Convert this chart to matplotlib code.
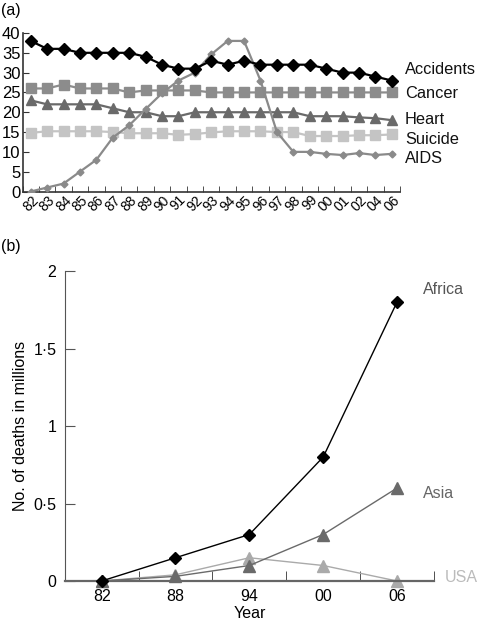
import matplotlib
matplotlib.use("Agg")
import matplotlib.pyplot as plt
from matplotlib.ticker import FuncFormatter

plt.rcParams['font.family'] = ['Liberation Sans', 'DejaVu Sans']

# ---------- Panel (a) data ----------
years_a = ['82', '83', '84', '85', '86', '87', '88', '89', '90', '91', '92', '93',
           '94', '95', '96', '97', '98', '99', '00', '01', '02', '04', '06']
accidents = [38, 36, 36, 35, 35, 35, 35, 34, 32, 31, 31, 33, 32, 33, 32, 32, 32, 32, 31, 30, 30, 29, 28]
cancer = [26, 26, 27, 26, 26, 26, 25, 25.5, 25.5, 25.5, 25.5, 25, 25, 25, 25, 25, 25, 25, 25, 25, 25, 25, 25]
heart = [23, 22, 22, 22, 22, 21, 20, 20, 19, 19, 20, 20, 20, 20, 20, 20, 20, 19, 19, 19, 18.7, 18.5, 18]
suicide = [14.8, 15.2, 15.2, 15.2, 15.2, 15, 14.7, 14.7, 14.7, 14.3, 14.5, 14.9, 15.2, 15.2, 15.2, 15, 15,
           14, 14, 14, 14.2, 14.2, 14.4]
aids = [0, 1, 2, 5, 8, 13.6, 16.7, 20.8, 24.8, 28, 30, 34.6, 38, 38, 28, 15, 10, 10, 9.5, 9.2, 9.7, 9.2, 9.5]
labels_a = ['Accidents', 'Cancer', 'Heart', 'Suicide', 'AIDS']

# ---------- Panel (b) data ----------
years_b = ['82', '88', '94', '00', '06']
africa = [0, 0.15, 0.3, 0.8, 1.8]
asia = [0, 0.03, 0.1, 0.3, 0.6]
usa = [0, 0.04, 0.15, 0.1, 0]
labels_b = ['Africa', 'Asia', 'USA']

W, H = 479, 627
fig = plt.figure(figsize=(W / 100, H / 100), dpi=100)

def fx(px):
    return px / W

def fy(py):
    return 1 - py / H

# ---- Panel (a) ----
ax1 = fig.add_axes([fx(22.5), fy(191.5), fx(400) - fx(22.5), fy(33) - fy(191.5)])
xa = list(range(len(years_a)))
ax1.plot(xa, aids, color='#8a8a8a', lw=1.6, marker='D', ms=3.5, zorder=3)
ax1.plot(xa, suicide, color='#c4c4c4', lw=1.6, marker='s', ms=7, zorder=2)
ax1.plot(xa, heart, color='#6a6a6a', lw=1.6, marker='^', ms=7.5, zorder=2)
ax1.plot(xa, cancer, color='#8c8c8c', lw=1.6, marker='s', ms=7, zorder=2)
ax1.plot(xa, accidents, color='#000000', lw=1.6, marker='D', ms=6.5, zorder=4)
ax1.set_xlim(-0.5, len(years_a) - 0.5)
ax1.set_ylim(0, 40)
ax1.set_yticks(range(0, 41, 5))
ax1.tick_params(axis='y', direction='in', length=4, labelsize=12, pad=1.5, color='#333333')
ax1.set_xticks(xa)
ax1.set_xticklabels(years_a, rotation=45, fontsize=10, ha='center', va='top')
ax1.set_xticks([i + 0.5 for i in range(-1, len(years_a))], minor=True)
ax1.tick_params(axis='x', which='major', length=0, pad=1)
ax1.tick_params(axis='x', which='minor', direction='in', length=4, color='#333333')
for s in ['top', 'right']:
    ax1.spines[s].set_visible(False)
for s in ['left', 'bottom']:
    ax1.spines[s].set_color('#333333')
    ax1.spines[s].set_linewidth(1.2)
label_y_a = [70, 94, 120, 140, 158]
for lab, py in zip(labels_a, label_y_a):
    fig.text(fx(405), fy(py), lab, fontsize=11.8, ha='left', va='center', color='#111111')
fig.text(fx(1), fy(10), '(a)', fontsize=11.5, ha='left', va='center')

# ---- Panel (b) ----
ax2 = fig.add_axes([fx(64.7), fy(581), fx(434) - fx(64.7), fy(271) - fy(581)])
xb = list(range(len(years_b)))
ax2.plot(xb, usa, color='#aaaaaa', lw=1.0, marker='^', ms=8, zorder=2, clip_on=False)
ax2.plot(xb, asia, color='#6a6a6a', lw=1.0, marker='^', ms=8, zorder=3, clip_on=False)
ax2.plot(xb, africa, color='#000000', lw=1.0, marker='D', ms=6.5, zorder=4, clip_on=False)
ax2.set_xlim(-0.5, len(years_b) - 0.5)
ax2.set_ylim(0, 2)
ax2.set_yticks([0, 0.5, 1, 1.5, 2])
ax2.yaxis.set_major_formatter(FuncFormatter(lambda v, p: ('%g' % v).replace('.', '\u00b7')))
ax2.tick_params(axis='y', direction='in', length=7, labelsize=11.5, pad=6, color='#555555')
ax2.set_xticks(xb)
ax2.set_xticklabels(years_b, fontsize=11.5)
ax2.set_xticks([i + 0.5 for i in range(len(years_b))], minor=True)
ax2.tick_params(axis='x', which='major', length=0, pad=6)
ax2.tick_params(axis='x', which='minor', direction='in', length=7, color='#333333')
for s in ['top', 'right']:
    ax2.spines[s].set_visible(False)
ax2.spines['left'].set_color('#555555')
ax2.spines['bottom'].set_color('#666666')
ax2.spines['bottom'].set_linewidth(1.6)
ax2.set_xlabel('Year', fontsize=11.5, labelpad=1)
ax2.set_ylabel('No. of deaths in millions', fontsize=11.5, labelpad=4)
fig.text(fx(423), fy(290), labels_b[0], fontsize=11.5, ha='left', va='center', color='#555555')
fig.text(fx(423), fy(493), labels_b[1], fontsize=11.5, ha='left', va='center', color='#666666')
fig.text(fx(445), fy(578), labels_b[2], fontsize=11.5, ha='left', va='center', color='#bbbbbb')
fig.text(fx(1), fy(247), '(b)', fontsize=11.5, ha='left', va='center')

fig.savefig('out.png', dpi=100)
